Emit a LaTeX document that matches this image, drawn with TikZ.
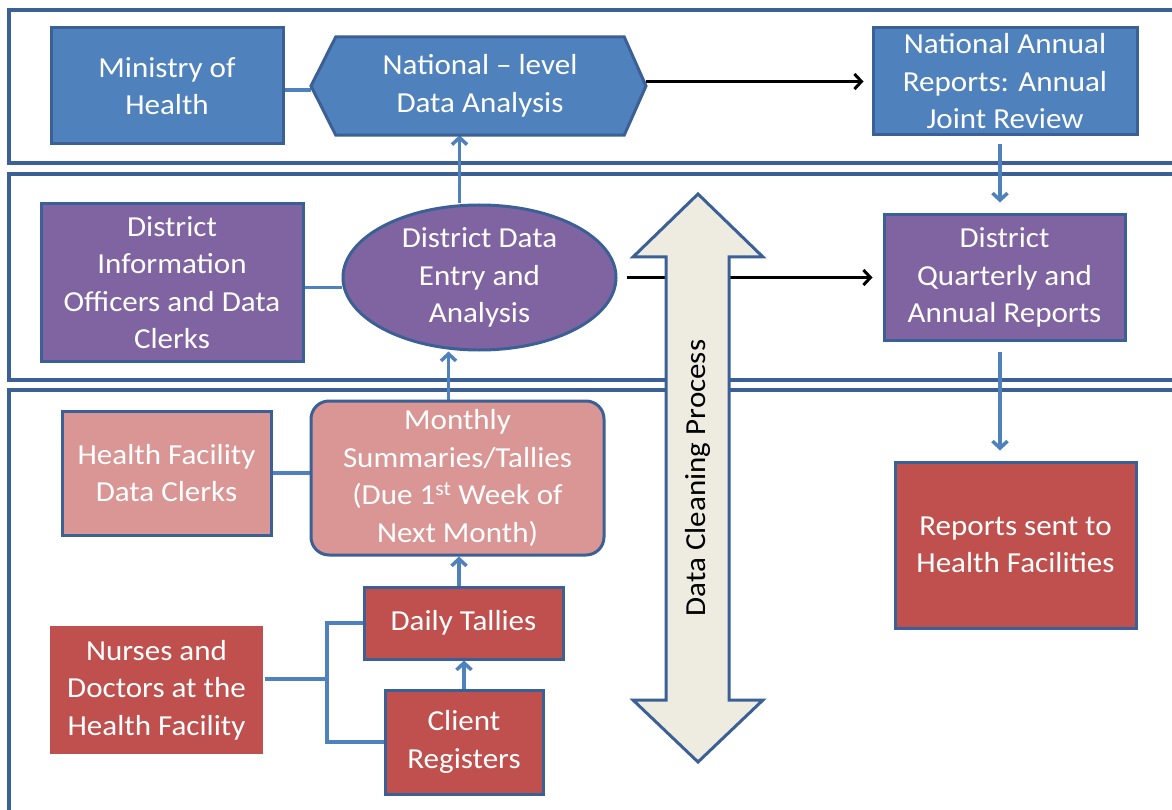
\documentclass[tikz,border=0pt]{standalone}
\usepackage{fontspec}
\setmainfont{Carlito}[FakeStretch=1.07]
\usetikzlibrary{shapes.geometric,arrows.meta,calc}
\definecolor{blueF}{HTML}{4F81BD}
\definecolor{purpleF}{HTML}{8064A2}
\definecolor{pinkF}{HTML}{D99694}
\definecolor{redF}{HTML}{C0504D}
\definecolor{bordc}{HTML}{3B6095}
\definecolor{connc}{HTML}{4F81BD}
\definecolor{arrF}{HTML}{EEECE1}
\pgfdeclarelayer{bg}
\pgfsetlayers{bg,main}
\newcommand{\bxfont}{\fontsize{29}{37.5}\selectfont}
\begin{document}
\begin{tikzpicture}[x=1pt,y=-1pt,
  box/.style={draw=bordc,line width=3pt,text=white,align=center,inner sep=0pt,font=\bxfont},
  txt/.style={text=white,align=center,inner sep=0pt,font=\bxfont},
  panel/.style={draw=bordc,line width=3.5pt},
  conn/.style={draw=connc,line width=3.5pt},
  barrow/.style={conn,-{Straight Barb[length=7pt,width=15pt]}},
  karrow/.style={draw=black,line width=3pt,-{Straight Barb[length=7pt,width=15pt]}}]
\useasboundingbox (0,0) rectangle (1172,810);
% boxes
\node[box,fill=blueF,minimum width=232pt,minimum height=116pt] (min) at (167,86) {Ministry of\\Health};
\node[minimum width=288pt,minimum height=98pt,inner sep=0pt] (nat) at (480,86) {};
\coordinate (natL) at (311,86);
\coordinate (natR) at (646,86);
\filldraw[fill=blueF,draw=bordc,line width=3pt] (nat.north west) -- (nat.north east) -- (natR) -- (nat.south east) -- (nat.south west) -- (natL) -- cycle;
\node[txt] (natt) at (nat.center) {National – level\\Data Analysis};
\node[box,fill=blueF,minimum width=264pt,minimum height=107pt] (nar) at (1005,81.5) {National Annual\\Reports: Annual\\Joint Review};
\node[box,fill=purpleF,minimum width=262pt,minimum height=157pt] (dio) at (172,282.5) {District\\Information\\Officers and Data\\Clerks};
\node[box,ellipse,fill=purpleF,minimum width=273pt,minimum height=145pt] (dde) at (479.5,277.5) {District Data\\Entry and\\Analysis};
\node[box,fill=purpleF,minimum width=241pt,minimum height=125pt] (dq) at (1004.5,277.5) {District\\Quarterly and\\Annual Reports};
\node[box,fill=pinkF,minimum width=209pt,minimum height=124pt] (hfc) at (166.5,473) {Health Facility\\Data Clerks};
\node[box,fill=pinkF,rounded corners=18pt,minimum width=293pt,minimum height=154pt] (mon) at (457.5,478) {Monthly\\Summaries/Tallies\\(Due 1\textsuperscript{st} Week of\\Next Month)};
\node[box,fill=redF,minimum width=199pt,minimum height=72pt] (dt) at (463.5,623) {Daily Tallies};
\node[box,fill=redF,minimum width=158pt,minimum height=104pt] (cr) at (464,742) {Client\\Registers};
\node[box,draw=none,fill=redF,minimum width=213pt,minimum height=128pt] (nd) at (156.5,690) {Nurses and\\Doctors at the\\Health Facility};
\node[box,fill=redF,minimum width=241pt,minimum height=166pt] (rep) at (1015.5,545) {Reports sent to\\Health Facilities};
% data cleaning double arrow
\filldraw[fill=arrF,draw=bordc,line width=3pt] (698,194) -- (763,257) -- (729,257) -- (729,700) -- (763,700) -- (698,762) -- (633,700) -- (666,700) -- (666,257) -- (633,257) -- cycle;
\node[rotate=90,inner sep=0pt,font=\fontsize{29}{35}\selectfont,text=black] (dcp) at (697.5,478) {Data Cleaning Process};
% background layer: panels and connectors
\begin{pgfonlayer}{bg}
\fill[white] (0,0) rectangle (1172,810);
\draw[panel] (1185,10) -- (9,10) -- (9,163) -- (1185,163);
\draw[panel] (1185,174) -- (9,174) -- (9,380) -- (1185,380);
\draw[panel] (1185,390) -- (9,390) -- (9,825);
\coordinate (c1) at ([yshift=-4pt]min.east);
\draw[conn] (c1) -- (c1 -| natL);
\coordinate (a1) at ([xshift=-20pt]dde.north);
\draw[barrow] (a1) -- (a1 |- nat.south);
\coordinate (b1) at (natR |- nar.west);
\draw[karrow] (b1) -- ([xshift=-8pt]nar.west);
\draw[karrow] ([xshift=9pt]dde.east) -- ([xshift=-10pt]dq.west);
\coordinate (c2) at ([xshift=-5pt,yshift=-8pt]nar.south);
\coordinate (c3) at ([yshift=11pt]dq.north);
\draw[barrow] (c2) -- (c2 |- c3);
\coordinate (c4) at ([xshift=-4.5pt,yshift=-10pt]dq.south);
\coordinate (c5) at ([yshift=10pt]rep.north);
\draw[barrow] (c4) -- (c4 |- c5);
\coordinate (c6) at ([yshift=-5pt]dio.east);
\draw[conn] (c6) -- (c6 -| dde.west);
\draw[conn] (hfc.east) -- (hfc.east -| mon.west);
\coordinate (c7) at ([xshift=-9pt]mon.north);
\draw[barrow] (c7) -- (c7 |- dde.south);
\coordinate (c8) at ([xshift=-4.5pt]dt.north);
\draw[barrow] (c8) -- (c8 |- mon.south);
\draw[barrow] (cr.north) -- (cr.north |- dt.south);
\coordinate (br) at (327,679);
\draw[conn] (dt.west) -| (br) |- (cr.west);
\draw[conn] (nd.east |- br) -- (br);
\end{pgfonlayer}
\end{tikzpicture}
\end{document}
